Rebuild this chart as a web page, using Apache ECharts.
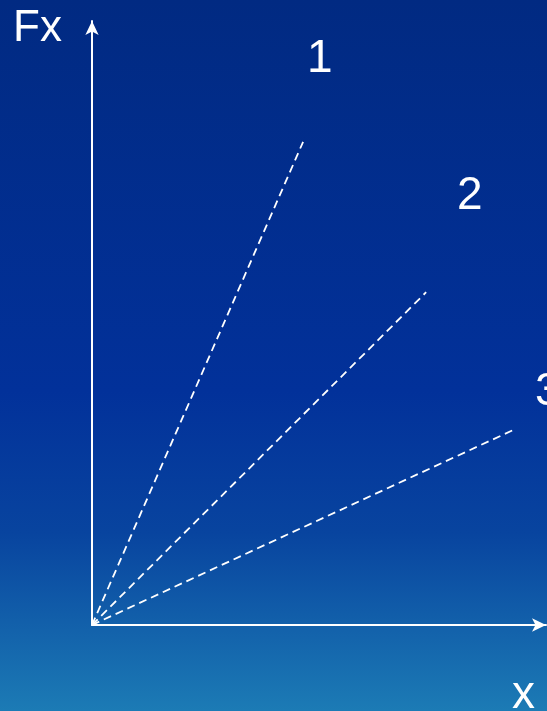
<!DOCTYPE html>
<html>
<head>
<meta charset="utf-8">
<script src="https://cdn.jsdelivr.net/npm/echarts@6/dist/echarts.min.js"></script>
<style>html,body{margin:0;padding:0;}#c{width:547px;height:711px;}</style>
</head>
<body>
<div id="c"></div>
<script>
const lineNames = ['1', '2', '3'];
const line1 = [[0, 0], [4.65, 8.00]];
const line2 = [[0, 0], [7.36, 5.51]];
const line3 = [[0, 0], [9.34, 3.25]];
const axisNames = ['x', 'Fx'];

const chart = echarts.init(document.getElementById('c'));
const lineData = [line1, line2, line3];
const dashStyle = { color: '#ffffff', width: 1.8, type: [8, 5] };
const font = 'Liberation Sans, Arial, sans-serif';
const txt = (text, x, y, size) => ({
  type: 'text', left: x, top: y,
  style: { text: text, fill: '#ffffff', font: size + 'px ' + font }
});
chart.setOption({
  backgroundColor: {
    type: 'linear', x: 0, y: 0, x2: 0, y2: 1,
    colorStops: [
      { offset: 0, color: '#012a82' },
      { offset: 0.55, color: '#02319a' },
      { offset: 0.75, color: '#08449f' },
      { offset: 1, color: '#1c7bb5' }
    ]
  },
  animation: false,
  grid: { left: 92, top: 21, right: 1, bottom: 86 },
  xAxis: {
    type: 'value', min: 0, max: 10,
    axisLine: { lineStyle: { color: '#ffffff', width: 2 }, symbol: ['none', 'arrow'], symbolSize: [10, 14] },
    axisTick: { show: false }, axisLabel: { show: false }, splitLine: { show: false }
  },
  yAxis: {
    type: 'value', min: 0, max: 10,
    axisLine: { show: true, lineStyle: { color: '#ffffff', width: 2 }, symbol: ['none', 'arrow'], symbolSize: [10, 14] },
    axisTick: { show: false }, axisLabel: { show: false }, splitLine: { show: false }
  },
  series: lineData.map((d, i) => ({
    name: lineNames[i], type: 'line', data: d, showSymbol: false,
    lineStyle: dashStyle, silent: true
  })),
  graphic: [
    txt(axisNames[1], 13, 7, 44),
    txt(axisNames[0], 512, 672, 46),
    txt(lineNames[0], 307, 36, 46),
    txt(lineNames[1], 457, 173, 46),
    txt(lineNames[2], 535, 369, 46)
  ]
});
</script>
</body>
</html>
